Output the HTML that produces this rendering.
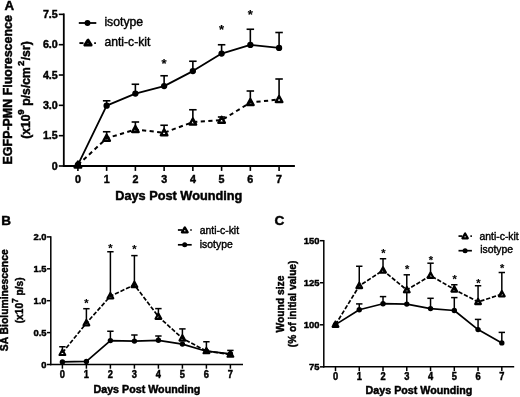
<!DOCTYPE html>
<html><head><meta charset="utf-8"><title>Figure</title>
<style>
html,body{margin:0;padding:0;background:#fff;}
body{width:520px;height:397px;overflow:hidden;}
svg{display:block;font-family:'Liberation Sans', Arial, Helvetica, sans-serif;}
text{fill:#000;}
</style></head><body>
<svg width="520" height="397" viewBox="0 0 520 397" font-family="'Liberation Sans', Arial, Helvetica, sans-serif">
<defs><filter id="soft" x="0" y="0" width="520" height="397" filterUnits="userSpaceOnUse"><feGaussianBlur stdDeviation="0.4"/></filter></defs>
<rect width="520" height="397" fill="#fff"/>
<g filter="url(#soft)">
<line x1="63.80" y1="13.45" x2="63.80" y2="166.90" stroke="#000" stroke-width="1.8" stroke-linecap="butt"/>
<line x1="62.90" y1="166.00" x2="294.90" y2="166.00" stroke="#000" stroke-width="1.9" stroke-linecap="butt"/>
<line x1="58.80" y1="166.00" x2="63.80" y2="166.00" stroke="#000" stroke-width="1.6" stroke-linecap="butt"/>
<text transform="translate(57.80 169.80) scale(0.94 1.0)" font-size="11.4" text-anchor="end" font-weight="bold" stroke="#000" stroke-width="0.45">0</text>
<line x1="58.80" y1="135.67" x2="63.80" y2="135.67" stroke="#000" stroke-width="1.6" stroke-linecap="butt"/>
<text transform="translate(57.80 139.47) scale(0.94 1.0)" font-size="11.4" text-anchor="end" font-weight="bold" stroke="#000" stroke-width="0.45">1.5</text>
<line x1="58.80" y1="105.34" x2="63.80" y2="105.34" stroke="#000" stroke-width="1.6" stroke-linecap="butt"/>
<text transform="translate(57.80 109.14) scale(0.94 1.0)" font-size="11.4" text-anchor="end" font-weight="bold" stroke="#000" stroke-width="0.45">3.0</text>
<line x1="58.80" y1="75.01" x2="63.80" y2="75.01" stroke="#000" stroke-width="1.6" stroke-linecap="butt"/>
<text transform="translate(57.80 78.81) scale(0.94 1.0)" font-size="11.4" text-anchor="end" font-weight="bold" stroke="#000" stroke-width="0.45">4.5</text>
<line x1="58.80" y1="44.68" x2="63.80" y2="44.68" stroke="#000" stroke-width="1.6" stroke-linecap="butt"/>
<text transform="translate(57.80 48.48) scale(0.94 1.0)" font-size="11.4" text-anchor="end" font-weight="bold" stroke="#000" stroke-width="0.45">6.0</text>
<line x1="58.80" y1="14.35" x2="63.80" y2="14.35" stroke="#000" stroke-width="1.6" stroke-linecap="butt"/>
<text transform="translate(57.80 18.15) scale(0.94 1.0)" font-size="11.4" text-anchor="end" font-weight="bold" stroke="#000" stroke-width="0.45">7.5</text>
<line x1="77.90" y1="166.00" x2="77.90" y2="170.90" stroke="#000" stroke-width="1.6" stroke-linecap="butt"/>
<text transform="translate(77.90 182.60) scale(0.94 1.0)" font-size="11.4" text-anchor="middle" font-weight="bold" stroke="#000" stroke-width="0.45">0</text>
<line x1="106.64" y1="166.00" x2="106.64" y2="170.90" stroke="#000" stroke-width="1.6" stroke-linecap="butt"/>
<text transform="translate(106.64 182.60) scale(0.94 1.0)" font-size="11.4" text-anchor="middle" font-weight="bold" stroke="#000" stroke-width="0.45">1</text>
<line x1="135.38" y1="166.00" x2="135.38" y2="170.90" stroke="#000" stroke-width="1.6" stroke-linecap="butt"/>
<text transform="translate(135.38 182.60) scale(0.94 1.0)" font-size="11.4" text-anchor="middle" font-weight="bold" stroke="#000" stroke-width="0.45">2</text>
<line x1="164.12" y1="166.00" x2="164.12" y2="170.90" stroke="#000" stroke-width="1.6" stroke-linecap="butt"/>
<text transform="translate(164.12 182.60) scale(0.94 1.0)" font-size="11.4" text-anchor="middle" font-weight="bold" stroke="#000" stroke-width="0.45">3</text>
<line x1="192.86" y1="166.00" x2="192.86" y2="170.90" stroke="#000" stroke-width="1.6" stroke-linecap="butt"/>
<text transform="translate(192.86 182.60) scale(0.94 1.0)" font-size="11.4" text-anchor="middle" font-weight="bold" stroke="#000" stroke-width="0.45">4</text>
<line x1="221.60" y1="166.00" x2="221.60" y2="170.90" stroke="#000" stroke-width="1.6" stroke-linecap="butt"/>
<text transform="translate(221.60 182.60) scale(0.94 1.0)" font-size="11.4" text-anchor="middle" font-weight="bold" stroke="#000" stroke-width="0.45">5</text>
<line x1="250.34" y1="166.00" x2="250.34" y2="170.90" stroke="#000" stroke-width="1.6" stroke-linecap="butt"/>
<text transform="translate(250.34 182.60) scale(0.94 1.0)" font-size="11.4" text-anchor="middle" font-weight="bold" stroke="#000" stroke-width="0.45">6</text>
<line x1="279.08" y1="166.00" x2="279.08" y2="170.90" stroke="#000" stroke-width="1.6" stroke-linecap="butt"/>
<text transform="translate(279.08 182.60) scale(0.94 1.0)" font-size="11.4" text-anchor="middle" font-weight="bold" stroke="#000" stroke-width="0.45">7</text>
<text transform="translate(178.80 199.60) scale(1.028 1.0)" font-size="12.4" text-anchor="middle" font-weight="bold" stroke="#000" stroke-width="0.45">Days Post Wounding</text>
<text transform="translate(12.30 89.80) rotate(-90) scale(1.0 1.04)" font-size="12.45" text-anchor="middle" font-weight="bold" stroke="#000" stroke-width="0.45">EGFP-PMN Fluorescence</text>
<text font-size="12.2" text-anchor="start" font-weight="bold" stroke="#000" stroke-width="0.45" transform="translate(30.4 138.8) rotate(-90)">(x10<tspan dy="-6.0" dx="-0.45" font-size="9.6">9</tspan><tspan dy="6.0" dx="0.4"> p/s/cm</tspan><tspan dy="-6.0" dx="1.1" font-size="9.6">2</tspan><tspan dy="6.0" dx="0.4">/sr)</tspan></text>
<text transform="translate(4.50 9.90)" font-size="13.3" text-anchor="start" font-weight="bold" stroke="#000" stroke-width="0.45">A</text>
<line x1="106.64" y1="105.70" x2="106.64" y2="100.80" stroke="#000" stroke-width="1.6" stroke-linecap="butt"/>
<line x1="102.89" y1="100.80" x2="110.39" y2="100.80" stroke="#000" stroke-width="1.6" stroke-linecap="butt"/>
<line x1="135.38" y1="93.60" x2="135.38" y2="84.25" stroke="#000" stroke-width="1.6" stroke-linecap="butt"/>
<line x1="131.63" y1="84.25" x2="139.13" y2="84.25" stroke="#000" stroke-width="1.6" stroke-linecap="butt"/>
<line x1="164.12" y1="86.10" x2="164.12" y2="75.75" stroke="#000" stroke-width="1.6" stroke-linecap="butt"/>
<line x1="160.37" y1="75.75" x2="167.87" y2="75.75" stroke="#000" stroke-width="1.6" stroke-linecap="butt"/>
<line x1="192.86" y1="71.10" x2="192.86" y2="61.25" stroke="#000" stroke-width="1.6" stroke-linecap="butt"/>
<line x1="189.11" y1="61.25" x2="196.61" y2="61.25" stroke="#000" stroke-width="1.6" stroke-linecap="butt"/>
<line x1="221.60" y1="53.60" x2="221.60" y2="44.75" stroke="#000" stroke-width="1.6" stroke-linecap="butt"/>
<line x1="217.85" y1="44.75" x2="225.35" y2="44.75" stroke="#000" stroke-width="1.6" stroke-linecap="butt"/>
<line x1="250.34" y1="44.90" x2="250.34" y2="29.25" stroke="#000" stroke-width="1.6" stroke-linecap="butt"/>
<line x1="246.59" y1="29.25" x2="254.09" y2="29.25" stroke="#000" stroke-width="1.6" stroke-linecap="butt"/>
<line x1="279.08" y1="47.90" x2="279.08" y2="32.50" stroke="#000" stroke-width="1.6" stroke-linecap="butt"/>
<line x1="275.33" y1="32.50" x2="282.83" y2="32.50" stroke="#000" stroke-width="1.6" stroke-linecap="butt"/>
<line x1="106.64" y1="137.75" x2="106.64" y2="131.75" stroke="#000" stroke-width="1.6" stroke-linecap="butt"/>
<line x1="102.89" y1="131.75" x2="110.39" y2="131.75" stroke="#000" stroke-width="1.6" stroke-linecap="butt"/>
<line x1="135.38" y1="129.00" x2="135.38" y2="122.00" stroke="#000" stroke-width="1.6" stroke-linecap="butt"/>
<line x1="131.63" y1="122.00" x2="139.13" y2="122.00" stroke="#000" stroke-width="1.6" stroke-linecap="butt"/>
<line x1="164.12" y1="132.25" x2="164.12" y2="125.25" stroke="#000" stroke-width="1.6" stroke-linecap="butt"/>
<line x1="160.37" y1="125.25" x2="167.87" y2="125.25" stroke="#000" stroke-width="1.6" stroke-linecap="butt"/>
<line x1="192.86" y1="121.50" x2="192.86" y2="109.75" stroke="#000" stroke-width="1.6" stroke-linecap="butt"/>
<line x1="189.11" y1="109.75" x2="196.61" y2="109.75" stroke="#000" stroke-width="1.6" stroke-linecap="butt"/>
<line x1="221.60" y1="119.75" x2="221.60" y2="117.00" stroke="#000" stroke-width="1.6" stroke-linecap="butt"/>
<line x1="217.85" y1="117.00" x2="225.35" y2="117.00" stroke="#000" stroke-width="1.6" stroke-linecap="butt"/>
<line x1="250.34" y1="102.00" x2="250.34" y2="91.00" stroke="#000" stroke-width="1.6" stroke-linecap="butt"/>
<line x1="246.59" y1="91.00" x2="254.09" y2="91.00" stroke="#000" stroke-width="1.6" stroke-linecap="butt"/>
<line x1="279.08" y1="99.00" x2="279.08" y2="79.00" stroke="#000" stroke-width="1.6" stroke-linecap="butt"/>
<line x1="275.33" y1="79.00" x2="282.83" y2="79.00" stroke="#000" stroke-width="1.6" stroke-linecap="butt"/>
<polyline points="77.90,164.80 106.64,105.70 135.38,93.60 164.12,86.10 192.86,71.10 221.60,53.60 250.34,44.90 279.08,47.90" fill="none" stroke="#000" stroke-width="1.8" stroke-linejoin="round"/>
<polyline points="77.90,165.00 106.64,138.25 135.38,129.50 164.12,132.75 192.86,122.00 221.60,120.25 250.34,102.50 279.08,99.50" fill="none" stroke="#000" stroke-width="2.0" stroke-linejoin="round" stroke-dasharray="4.2 3.4"/>
<circle cx="77.90" cy="164.80" r="3.15" fill="#000"/>
<circle cx="106.64" cy="105.70" r="3.15" fill="#000"/>
<circle cx="135.38" cy="93.60" r="3.15" fill="#000"/>
<circle cx="164.12" cy="86.10" r="3.15" fill="#000"/>
<circle cx="192.86" cy="71.10" r="3.15" fill="#000"/>
<circle cx="221.60" cy="53.60" r="3.15" fill="#000"/>
<circle cx="250.34" cy="44.90" r="3.15" fill="#000"/>
<circle cx="279.08" cy="47.90" r="3.15" fill="#000"/>
<polygon points="77.90,161.53 74.62,167.56 81.18,167.56" fill="none" stroke="#000" stroke-width="2.39" stroke-linejoin="round"/>
<polygon points="106.64,134.78 103.36,140.81 109.92,140.81" fill="none" stroke="#000" stroke-width="2.39" stroke-linejoin="round"/>
<polygon points="135.38,126.03 132.10,132.06 138.66,132.06" fill="none" stroke="#000" stroke-width="2.39" stroke-linejoin="round"/>
<polygon points="164.12,129.28 160.84,135.31 167.40,135.31" fill="none" stroke="#000" stroke-width="2.39" stroke-linejoin="round"/>
<polygon points="192.86,118.53 189.58,124.56 196.14,124.56" fill="none" stroke="#000" stroke-width="2.39" stroke-linejoin="round"/>
<polygon points="221.60,116.78 218.32,122.81 224.88,122.81" fill="none" stroke="#000" stroke-width="2.39" stroke-linejoin="round"/>
<polygon points="250.34,99.03 247.06,105.06 253.62,105.06" fill="none" stroke="#000" stroke-width="2.39" stroke-linejoin="round"/>
<polygon points="279.08,96.03 275.80,102.06 282.36,102.06" fill="none" stroke="#000" stroke-width="2.39" stroke-linejoin="round"/>
<text transform="translate(164.02 67.85)" font-size="13" text-anchor="middle" font-weight="bold" stroke="#000" stroke-width="0.15">*</text>
<text transform="translate(221.50 34.05)" font-size="13" text-anchor="middle" font-weight="bold" stroke="#000" stroke-width="0.15">*</text>
<text transform="translate(250.24 18.65)" font-size="13" text-anchor="middle" font-weight="bold" stroke="#000" stroke-width="0.15">*</text>
<line x1="78.80" y1="23.00" x2="96.30" y2="23.00" stroke="#000" stroke-width="1.8" stroke-linecap="butt"/>
<circle cx="87.50" cy="23.00" r="2.95" fill="#000"/>
<text transform="translate(104.40 26.00) scale(1.02 1.0)" font-size="12" text-anchor="start" stroke="#000" stroke-width="0.4">isotype</text>
<line x1="79.40" y1="43.10" x2="83.50" y2="43.10" stroke="#000" stroke-width="1.9" stroke-linecap="butt"/>
<line x1="94.20" y1="43.10" x2="95.90" y2="43.10" stroke="#000" stroke-width="1.9" stroke-linecap="butt"/>
<polygon points="88.00,40.15 84.88,45.15 91.12,45.15" fill="none" stroke="#000" stroke-width="2.93" stroke-linejoin="round"/>
<text transform="translate(104.40 45.80) scale(1.015 1.0)" font-size="12" text-anchor="start" stroke="#000" stroke-width="0.4">anti-c-kit</text>
<line x1="50.80" y1="236.25" x2="50.80" y2="365.25" stroke="#000" stroke-width="1.5" stroke-linecap="butt"/>
<line x1="50.05" y1="364.50" x2="243.00" y2="364.50" stroke="#000" stroke-width="1.5" stroke-linecap="butt"/>
<line x1="46.90" y1="364.50" x2="50.80" y2="364.50" stroke="#000" stroke-width="1.5" stroke-linecap="butt"/>
<text transform="translate(46.50 368.00) scale(0.96 1.0)" font-size="9.8" text-anchor="end" font-weight="bold" stroke="#000" stroke-width="0.45">0</text>
<line x1="46.90" y1="332.60" x2="50.80" y2="332.60" stroke="#000" stroke-width="1.5" stroke-linecap="butt"/>
<text transform="translate(46.50 336.10) scale(0.96 1.0)" font-size="9.8" text-anchor="end" font-weight="bold" stroke="#000" stroke-width="0.45">0.5</text>
<line x1="46.90" y1="300.70" x2="50.80" y2="300.70" stroke="#000" stroke-width="1.5" stroke-linecap="butt"/>
<text transform="translate(46.50 304.20) scale(0.96 1.0)" font-size="9.8" text-anchor="end" font-weight="bold" stroke="#000" stroke-width="0.45">1.0</text>
<line x1="46.90" y1="268.80" x2="50.80" y2="268.80" stroke="#000" stroke-width="1.5" stroke-linecap="butt"/>
<text transform="translate(46.50 272.30) scale(0.96 1.0)" font-size="9.8" text-anchor="end" font-weight="bold" stroke="#000" stroke-width="0.45">1.5</text>
<line x1="46.90" y1="236.90" x2="50.80" y2="236.90" stroke="#000" stroke-width="1.5" stroke-linecap="butt"/>
<text transform="translate(46.50 240.40) scale(0.96 1.0)" font-size="9.8" text-anchor="end" font-weight="bold" stroke="#000" stroke-width="0.45">2.0</text>
<line x1="62.40" y1="364.50" x2="62.40" y2="368.70" stroke="#000" stroke-width="1.5" stroke-linecap="butt"/>
<text transform="translate(62.40 378.20) scale(0.93 1.0)" font-size="10" text-anchor="middle" font-weight="bold" stroke="#000" stroke-width="0.45">0</text>
<line x1="86.40" y1="364.50" x2="86.40" y2="368.70" stroke="#000" stroke-width="1.5" stroke-linecap="butt"/>
<text transform="translate(86.40 378.20) scale(0.93 1.0)" font-size="10" text-anchor="middle" font-weight="bold" stroke="#000" stroke-width="0.45">1</text>
<line x1="110.40" y1="364.50" x2="110.40" y2="368.70" stroke="#000" stroke-width="1.5" stroke-linecap="butt"/>
<text transform="translate(110.40 378.20) scale(0.93 1.0)" font-size="10" text-anchor="middle" font-weight="bold" stroke="#000" stroke-width="0.45">2</text>
<line x1="134.40" y1="364.50" x2="134.40" y2="368.70" stroke="#000" stroke-width="1.5" stroke-linecap="butt"/>
<text transform="translate(134.40 378.20) scale(0.93 1.0)" font-size="10" text-anchor="middle" font-weight="bold" stroke="#000" stroke-width="0.45">3</text>
<line x1="158.40" y1="364.50" x2="158.40" y2="368.70" stroke="#000" stroke-width="1.5" stroke-linecap="butt"/>
<text transform="translate(158.40 378.20) scale(0.93 1.0)" font-size="10" text-anchor="middle" font-weight="bold" stroke="#000" stroke-width="0.45">4</text>
<line x1="182.40" y1="364.50" x2="182.40" y2="368.70" stroke="#000" stroke-width="1.5" stroke-linecap="butt"/>
<text transform="translate(182.40 378.20) scale(0.93 1.0)" font-size="10" text-anchor="middle" font-weight="bold" stroke="#000" stroke-width="0.45">5</text>
<line x1="206.40" y1="364.50" x2="206.40" y2="368.70" stroke="#000" stroke-width="1.5" stroke-linecap="butt"/>
<text transform="translate(206.40 378.20) scale(0.93 1.0)" font-size="10" text-anchor="middle" font-weight="bold" stroke="#000" stroke-width="0.45">6</text>
<line x1="230.40" y1="364.50" x2="230.40" y2="368.70" stroke="#000" stroke-width="1.5" stroke-linecap="butt"/>
<text transform="translate(230.40 378.20) scale(0.93 1.0)" font-size="10" text-anchor="middle" font-weight="bold" stroke="#000" stroke-width="0.45">7</text>
<text transform="translate(146.90 392.90) scale(1.03 1.0)" font-size="10.4" text-anchor="middle" font-weight="bold" stroke="#000" stroke-width="0.45">Days Post Wounding</text>
<text transform="translate(7.70 300.30) rotate(-90) scale(1.0 1.04)" font-size="10.35" text-anchor="middle" font-weight="bold" stroke="#000" stroke-width="0.45">SA Bioluminescence</text>
<text font-size="10.2" text-anchor="start" font-weight="bold" stroke="#000" stroke-width="0.45" transform="translate(23.0 323.3) rotate(-90)">(x10<tspan dy="-5" font-size="8.2">7</tspan><tspan dy="5" dx="0"> p/s)</tspan></text>
<text transform="translate(1.30 225.20)" font-size="13.5" text-anchor="start" font-weight="bold" stroke="#000" stroke-width="0.45">B</text>
<line x1="110.40" y1="340.60" x2="110.40" y2="331.25" stroke="#000" stroke-width="1.5" stroke-linecap="butt"/>
<line x1="107.20" y1="331.25" x2="113.60" y2="331.25" stroke="#000" stroke-width="1.5" stroke-linecap="butt"/>
<line x1="134.40" y1="341.10" x2="134.40" y2="335.00" stroke="#000" stroke-width="1.5" stroke-linecap="butt"/>
<line x1="131.20" y1="335.00" x2="137.60" y2="335.00" stroke="#000" stroke-width="1.5" stroke-linecap="butt"/>
<line x1="158.40" y1="340.30" x2="158.40" y2="336.00" stroke="#000" stroke-width="1.5" stroke-linecap="butt"/>
<line x1="155.20" y1="336.00" x2="161.60" y2="336.00" stroke="#000" stroke-width="1.5" stroke-linecap="butt"/>
<line x1="62.40" y1="352.40" x2="62.40" y2="346.75" stroke="#000" stroke-width="1.5" stroke-linecap="butt"/>
<line x1="59.20" y1="346.75" x2="65.60" y2="346.75" stroke="#000" stroke-width="1.5" stroke-linecap="butt"/>
<line x1="86.40" y1="322.70" x2="86.40" y2="308.70" stroke="#000" stroke-width="1.5" stroke-linecap="butt"/>
<line x1="83.20" y1="308.70" x2="89.60" y2="308.70" stroke="#000" stroke-width="1.5" stroke-linecap="butt"/>
<line x1="110.40" y1="295.75" x2="110.40" y2="251.75" stroke="#000" stroke-width="1.5" stroke-linecap="butt"/>
<line x1="107.20" y1="251.75" x2="113.60" y2="251.75" stroke="#000" stroke-width="1.5" stroke-linecap="butt"/>
<line x1="134.40" y1="284.50" x2="134.40" y2="255.60" stroke="#000" stroke-width="1.5" stroke-linecap="butt"/>
<line x1="131.20" y1="255.60" x2="137.60" y2="255.60" stroke="#000" stroke-width="1.5" stroke-linecap="butt"/>
<line x1="158.40" y1="316.20" x2="158.40" y2="308.60" stroke="#000" stroke-width="1.5" stroke-linecap="butt"/>
<line x1="155.20" y1="308.60" x2="161.60" y2="308.60" stroke="#000" stroke-width="1.5" stroke-linecap="butt"/>
<line x1="182.40" y1="338.00" x2="182.40" y2="328.90" stroke="#000" stroke-width="1.5" stroke-linecap="butt"/>
<line x1="179.20" y1="328.90" x2="185.60" y2="328.90" stroke="#000" stroke-width="1.5" stroke-linecap="butt"/>
<line x1="206.40" y1="350.60" x2="206.40" y2="341.75" stroke="#000" stroke-width="1.5" stroke-linecap="butt"/>
<line x1="203.20" y1="341.75" x2="209.60" y2="341.75" stroke="#000" stroke-width="1.5" stroke-linecap="butt"/>
<line x1="230.40" y1="354.10" x2="230.40" y2="350.40" stroke="#000" stroke-width="1.5" stroke-linecap="butt"/>
<line x1="227.20" y1="350.40" x2="233.60" y2="350.40" stroke="#000" stroke-width="1.5" stroke-linecap="butt"/>
<polyline points="62.40,361.90 86.40,361.40 110.40,340.60 134.40,341.10 158.40,340.30 182.40,344.10 206.40,351.20 230.40,353.80" fill="none" stroke="#000" stroke-width="1.7" stroke-linejoin="round"/>
<polyline points="62.40,352.80 86.40,323.10 110.40,296.15 134.40,284.90 158.40,316.60 182.40,338.40 206.40,351.00 230.40,354.50" fill="none" stroke="#000" stroke-width="1.7" stroke-linejoin="round" stroke-dasharray="4.3 1.8"/>
<circle cx="62.40" cy="361.90" r="2.7" fill="#000"/>
<circle cx="86.40" cy="361.40" r="2.7" fill="#000"/>
<circle cx="110.40" cy="340.60" r="2.7" fill="#000"/>
<circle cx="134.40" cy="341.10" r="2.7" fill="#000"/>
<circle cx="158.40" cy="340.30" r="2.7" fill="#000"/>
<circle cx="182.40" cy="344.10" r="2.7" fill="#000"/>
<circle cx="206.40" cy="351.20" r="2.7" fill="#000"/>
<circle cx="230.40" cy="353.80" r="2.7" fill="#000"/>
<polygon points="62.40,349.69 59.50,355.02 65.30,355.02" fill="none" stroke="#000" stroke-width="2.12" stroke-linejoin="round"/>
<polygon points="86.40,319.99 83.50,325.32 89.30,325.32" fill="none" stroke="#000" stroke-width="2.12" stroke-linejoin="round"/>
<polygon points="110.40,293.04 107.50,298.37 113.30,298.37" fill="none" stroke="#000" stroke-width="2.12" stroke-linejoin="round"/>
<polygon points="134.40,281.79 131.50,287.12 137.30,287.12" fill="none" stroke="#000" stroke-width="2.12" stroke-linejoin="round"/>
<polygon points="158.40,313.49 155.50,318.82 161.30,318.82" fill="none" stroke="#000" stroke-width="2.12" stroke-linejoin="round"/>
<polygon points="182.40,335.29 179.50,340.62 185.30,340.62" fill="none" stroke="#000" stroke-width="2.12" stroke-linejoin="round"/>
<polygon points="206.40,347.89 203.50,353.22 209.30,353.22" fill="none" stroke="#000" stroke-width="2.12" stroke-linejoin="round"/>
<polygon points="230.40,351.39 227.50,356.72 233.30,356.72" fill="none" stroke="#000" stroke-width="2.12" stroke-linejoin="round"/>
<text transform="translate(86.40 307.15)" font-size="11" text-anchor="middle" font-weight="bold" stroke="#000" stroke-width="0.15">*</text>
<text transform="translate(110.40 251.65)" font-size="11" text-anchor="middle" font-weight="bold" stroke="#000" stroke-width="0.15">*</text>
<text transform="translate(134.40 253.05)" font-size="11" text-anchor="middle" font-weight="bold" stroke="#000" stroke-width="0.15">*</text>
<line x1="177.90" y1="230.00" x2="182.30" y2="230.00" stroke="#000" stroke-width="1.7" stroke-linecap="butt"/>
<line x1="190.20" y1="230.00" x2="191.80" y2="230.00" stroke="#000" stroke-width="1.7" stroke-linecap="butt"/>
<polygon points="184.80,227.41 181.91,232.31 187.69,232.31" fill="none" stroke="#000" stroke-width="2.23" stroke-linejoin="round"/>
<text transform="translate(199.80 233.70)" font-size="10.4" text-anchor="start" stroke="#000" stroke-width="0.4">anti-c-kit</text>
<line x1="177.90" y1="244.80" x2="191.70" y2="244.80" stroke="#000" stroke-width="1.7" stroke-linecap="butt"/>
<circle cx="184.70" cy="244.80" r="2.5" fill="#000"/>
<text transform="translate(199.80 247.90)" font-size="10.4" text-anchor="start" stroke="#000" stroke-width="0.4">isotype</text>
<line x1="323.80" y1="239.95" x2="323.80" y2="367.60" stroke="#000" stroke-width="1.5" stroke-linecap="butt"/>
<line x1="323.05" y1="366.85" x2="514.20" y2="366.85" stroke="#000" stroke-width="1.5" stroke-linecap="butt"/>
<line x1="319.90" y1="366.85" x2="323.80" y2="366.85" stroke="#000" stroke-width="1.5" stroke-linecap="butt"/>
<text transform="translate(319.50 370.35) scale(0.96 1.0)" font-size="9.8" text-anchor="end" font-weight="bold" stroke="#000" stroke-width="0.45">75</text>
<line x1="319.90" y1="324.80" x2="323.80" y2="324.80" stroke="#000" stroke-width="1.5" stroke-linecap="butt"/>
<text transform="translate(319.50 328.30) scale(0.96 1.0)" font-size="9.8" text-anchor="end" font-weight="bold" stroke="#000" stroke-width="0.45">100</text>
<line x1="319.90" y1="282.75" x2="323.80" y2="282.75" stroke="#000" stroke-width="1.5" stroke-linecap="butt"/>
<text transform="translate(319.50 286.25) scale(0.96 1.0)" font-size="9.8" text-anchor="end" font-weight="bold" stroke="#000" stroke-width="0.45">125</text>
<line x1="319.90" y1="240.70" x2="323.80" y2="240.70" stroke="#000" stroke-width="1.5" stroke-linecap="butt"/>
<text transform="translate(319.50 244.20) scale(0.96 1.0)" font-size="9.8" text-anchor="end" font-weight="bold" stroke="#000" stroke-width="0.45">150</text>
<line x1="335.50" y1="366.85" x2="335.50" y2="371.05" stroke="#000" stroke-width="1.5" stroke-linecap="butt"/>
<text transform="translate(335.50 379.90) scale(0.93 1.0)" font-size="10" text-anchor="middle" font-weight="bold" stroke="#000" stroke-width="0.45">0</text>
<line x1="359.26" y1="366.85" x2="359.26" y2="371.05" stroke="#000" stroke-width="1.5" stroke-linecap="butt"/>
<text transform="translate(359.26 379.90) scale(0.93 1.0)" font-size="10" text-anchor="middle" font-weight="bold" stroke="#000" stroke-width="0.45">1</text>
<line x1="383.02" y1="366.85" x2="383.02" y2="371.05" stroke="#000" stroke-width="1.5" stroke-linecap="butt"/>
<text transform="translate(383.02 379.90) scale(0.93 1.0)" font-size="10" text-anchor="middle" font-weight="bold" stroke="#000" stroke-width="0.45">2</text>
<line x1="406.78" y1="366.85" x2="406.78" y2="371.05" stroke="#000" stroke-width="1.5" stroke-linecap="butt"/>
<text transform="translate(406.78 379.90) scale(0.93 1.0)" font-size="10" text-anchor="middle" font-weight="bold" stroke="#000" stroke-width="0.45">3</text>
<line x1="430.54" y1="366.85" x2="430.54" y2="371.05" stroke="#000" stroke-width="1.5" stroke-linecap="butt"/>
<text transform="translate(430.54 379.90) scale(0.93 1.0)" font-size="10" text-anchor="middle" font-weight="bold" stroke="#000" stroke-width="0.45">4</text>
<line x1="454.30" y1="366.85" x2="454.30" y2="371.05" stroke="#000" stroke-width="1.5" stroke-linecap="butt"/>
<text transform="translate(454.30 379.90) scale(0.93 1.0)" font-size="10" text-anchor="middle" font-weight="bold" stroke="#000" stroke-width="0.45">5</text>
<line x1="478.06" y1="366.85" x2="478.06" y2="371.05" stroke="#000" stroke-width="1.5" stroke-linecap="butt"/>
<text transform="translate(478.06 379.90) scale(0.93 1.0)" font-size="10" text-anchor="middle" font-weight="bold" stroke="#000" stroke-width="0.45">6</text>
<line x1="501.82" y1="366.85" x2="501.82" y2="371.05" stroke="#000" stroke-width="1.5" stroke-linecap="butt"/>
<text transform="translate(501.82 379.90) scale(0.93 1.0)" font-size="10" text-anchor="middle" font-weight="bold" stroke="#000" stroke-width="0.45">7</text>
<text transform="translate(419.00 394.00) scale(1.03 1.0)" font-size="10.4" text-anchor="middle" font-weight="bold" stroke="#000" stroke-width="0.45">Days Post Wounding</text>
<text transform="translate(283.50 304.10) rotate(-90) scale(1.0 1.04)" font-size="10.3" text-anchor="middle" font-weight="bold" stroke="#000" stroke-width="0.45">Wound size</text>
<text transform="translate(296.00 303.90) rotate(-90)" font-size="10.2" text-anchor="middle" font-weight="bold" stroke="#000" stroke-width="0.45">(% of initial value)</text>
<text transform="translate(274.40 224.80)" font-size="13.6" text-anchor="start" font-weight="bold" stroke="#000" stroke-width="0.45">C</text>
<line x1="359.26" y1="309.70" x2="359.26" y2="303.90" stroke="#000" stroke-width="1.5" stroke-linecap="butt"/>
<line x1="356.06" y1="303.90" x2="362.46" y2="303.90" stroke="#000" stroke-width="1.5" stroke-linecap="butt"/>
<line x1="383.02" y1="303.70" x2="383.02" y2="296.60" stroke="#000" stroke-width="1.5" stroke-linecap="butt"/>
<line x1="379.82" y1="296.60" x2="386.22" y2="296.60" stroke="#000" stroke-width="1.5" stroke-linecap="butt"/>
<line x1="406.78" y1="304.10" x2="406.78" y2="292.40" stroke="#000" stroke-width="1.5" stroke-linecap="butt"/>
<line x1="403.58" y1="292.40" x2="409.98" y2="292.40" stroke="#000" stroke-width="1.5" stroke-linecap="butt"/>
<line x1="430.54" y1="308.60" x2="430.54" y2="298.30" stroke="#000" stroke-width="1.5" stroke-linecap="butt"/>
<line x1="427.34" y1="298.30" x2="433.74" y2="298.30" stroke="#000" stroke-width="1.5" stroke-linecap="butt"/>
<line x1="454.30" y1="310.50" x2="454.30" y2="297.60" stroke="#000" stroke-width="1.5" stroke-linecap="butt"/>
<line x1="451.10" y1="297.60" x2="457.50" y2="297.60" stroke="#000" stroke-width="1.5" stroke-linecap="butt"/>
<line x1="478.06" y1="329.60" x2="478.06" y2="319.40" stroke="#000" stroke-width="1.5" stroke-linecap="butt"/>
<line x1="474.86" y1="319.40" x2="481.26" y2="319.40" stroke="#000" stroke-width="1.5" stroke-linecap="butt"/>
<line x1="501.82" y1="342.90" x2="501.82" y2="332.40" stroke="#000" stroke-width="1.5" stroke-linecap="butt"/>
<line x1="498.62" y1="332.40" x2="505.02" y2="332.40" stroke="#000" stroke-width="1.5" stroke-linecap="butt"/>
<line x1="359.26" y1="285.50" x2="359.26" y2="266.25" stroke="#000" stroke-width="1.5" stroke-linecap="butt"/>
<line x1="356.06" y1="266.25" x2="362.46" y2="266.25" stroke="#000" stroke-width="1.5" stroke-linecap="butt"/>
<line x1="383.02" y1="270.00" x2="383.02" y2="258.75" stroke="#000" stroke-width="1.5" stroke-linecap="butt"/>
<line x1="379.82" y1="258.75" x2="386.22" y2="258.75" stroke="#000" stroke-width="1.5" stroke-linecap="butt"/>
<line x1="406.78" y1="289.60" x2="406.78" y2="274.80" stroke="#000" stroke-width="1.5" stroke-linecap="butt"/>
<line x1="403.58" y1="274.80" x2="409.98" y2="274.80" stroke="#000" stroke-width="1.5" stroke-linecap="butt"/>
<line x1="430.54" y1="275.20" x2="430.54" y2="263.20" stroke="#000" stroke-width="1.5" stroke-linecap="butt"/>
<line x1="427.34" y1="263.20" x2="433.74" y2="263.20" stroke="#000" stroke-width="1.5" stroke-linecap="butt"/>
<line x1="454.30" y1="289.00" x2="454.30" y2="284.75" stroke="#000" stroke-width="1.5" stroke-linecap="butt"/>
<line x1="451.10" y1="284.75" x2="457.50" y2="284.75" stroke="#000" stroke-width="1.5" stroke-linecap="butt"/>
<line x1="478.06" y1="301.50" x2="478.06" y2="285.75" stroke="#000" stroke-width="1.5" stroke-linecap="butt"/>
<line x1="474.86" y1="285.75" x2="481.26" y2="285.75" stroke="#000" stroke-width="1.5" stroke-linecap="butt"/>
<line x1="501.82" y1="293.75" x2="501.82" y2="272.50" stroke="#000" stroke-width="1.5" stroke-linecap="butt"/>
<line x1="498.62" y1="272.50" x2="505.02" y2="272.50" stroke="#000" stroke-width="1.5" stroke-linecap="butt"/>
<polyline points="335.50,324.60 359.26,309.70 383.02,303.70 406.78,304.10 430.54,308.60 454.30,310.50 478.06,329.60 501.82,342.90" fill="none" stroke="#000" stroke-width="1.7" stroke-linejoin="round"/>
<polyline points="335.50,324.65 359.26,285.90 383.02,270.40 406.78,290.00 430.54,275.60 454.30,289.40 478.06,301.90 501.82,294.15" fill="none" stroke="#000" stroke-width="1.7" stroke-linejoin="round" stroke-dasharray="4.3 1.8"/>
<circle cx="335.50" cy="324.60" r="2.7" fill="#000"/>
<circle cx="359.26" cy="309.70" r="2.7" fill="#000"/>
<circle cx="383.02" cy="303.70" r="2.7" fill="#000"/>
<circle cx="406.78" cy="304.10" r="2.7" fill="#000"/>
<circle cx="430.54" cy="308.60" r="2.7" fill="#000"/>
<circle cx="454.30" cy="310.50" r="2.7" fill="#000"/>
<circle cx="478.06" cy="329.60" r="2.7" fill="#000"/>
<circle cx="501.82" cy="342.90" r="2.7" fill="#000"/>
<polygon points="335.50,321.54 332.60,326.87 338.40,326.87" fill="none" stroke="#000" stroke-width="2.12" stroke-linejoin="round"/>
<polygon points="359.26,282.79 356.36,288.12 362.16,288.12" fill="none" stroke="#000" stroke-width="2.12" stroke-linejoin="round"/>
<polygon points="383.02,267.29 380.12,272.62 385.92,272.62" fill="none" stroke="#000" stroke-width="2.12" stroke-linejoin="round"/>
<polygon points="406.78,286.89 403.88,292.22 409.68,292.22" fill="none" stroke="#000" stroke-width="2.12" stroke-linejoin="round"/>
<polygon points="430.54,272.49 427.64,277.82 433.44,277.82" fill="none" stroke="#000" stroke-width="2.12" stroke-linejoin="round"/>
<polygon points="454.30,286.29 451.40,291.62 457.20,291.62" fill="none" stroke="#000" stroke-width="2.12" stroke-linejoin="round"/>
<polygon points="478.06,298.79 475.16,304.12 480.96,304.12" fill="none" stroke="#000" stroke-width="2.12" stroke-linejoin="round"/>
<polygon points="501.82,291.04 498.92,296.37 504.72,296.37" fill="none" stroke="#000" stroke-width="2.12" stroke-linejoin="round"/>
<text transform="translate(383.42 256.60)" font-size="11" text-anchor="middle" font-weight="bold" stroke="#000" stroke-width="0.15">*</text>
<text transform="translate(407.18 272.95)" font-size="11" text-anchor="middle" font-weight="bold" stroke="#000" stroke-width="0.15">*</text>
<text transform="translate(430.94 263.60)" font-size="11" text-anchor="middle" font-weight="bold" stroke="#000" stroke-width="0.15">*</text>
<text transform="translate(454.70 283.15)" font-size="11" text-anchor="middle" font-weight="bold" stroke="#000" stroke-width="0.15">*</text>
<text transform="translate(478.46 286.55)" font-size="11" text-anchor="middle" font-weight="bold" stroke="#000" stroke-width="0.15">*</text>
<text transform="translate(502.22 272.35)" font-size="11" text-anchor="middle" font-weight="bold" stroke="#000" stroke-width="0.15">*</text>
<line x1="458.50" y1="236.10" x2="462.30" y2="236.10" stroke="#000" stroke-width="1.7" stroke-linecap="butt"/>
<line x1="470.40" y1="236.10" x2="471.90" y2="236.10" stroke="#000" stroke-width="1.7" stroke-linecap="butt"/>
<polygon points="465.10,233.41 462.43,238.31 467.77,238.31" fill="none" stroke="#000" stroke-width="2.23" stroke-linejoin="round"/>
<text transform="translate(479.50 239.70)" font-size="10.4" text-anchor="start" stroke="#000" stroke-width="0.4">anti-c-kit</text>
<line x1="458.50" y1="250.70" x2="471.90" y2="250.70" stroke="#000" stroke-width="1.7" stroke-linecap="butt"/>
<circle cx="465.10" cy="250.70" r="2.5" fill="#000"/>
<text transform="translate(480.20 252.90)" font-size="10.4" text-anchor="start" stroke="#000" stroke-width="0.4">isotype</text>
</g>
</svg>
</body></html>
